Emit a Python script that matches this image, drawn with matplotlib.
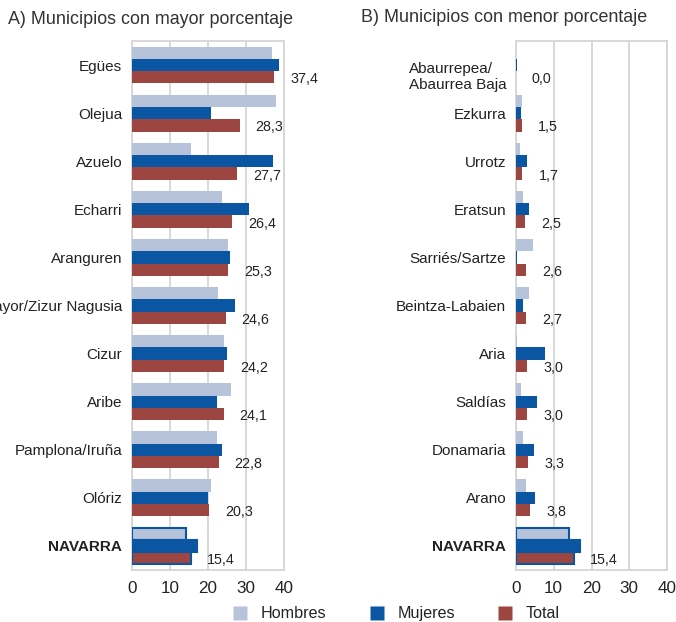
import numpy as np
import matplotlib
matplotlib.use("Agg")
import matplotlib.pyplot as plt
from matplotlib.lines import Line2D
from matplotlib.transforms import ScaledTranslation

# ----------------------------------------------------------------------
# data (percentages)
mun_a = ["Egües", "Olejua", "Azuelo", "Echarri", "Aranguren",
         "Zizur Mayor/Zizur Nagusia", "Cizur", "Aribe", "Pamplona/Iruña",
         "Olóriz", "NAVARRA"]
hom_a = [36.7, 37.9, 15.4, 23.6, 25.3, 22.7, 24.1, 26.0, 22.4, 20.9, 14.1]
muj_a = [38.7, 20.9, 37.2, 30.7, 25.8, 27.0, 24.9, 22.4, 23.6, 19.9, 17.0]
tot_a = [37.4, 28.3, 27.7, 26.4, 25.3, 24.6, 24.2, 24.1, 22.8, 20.3, 15.4]

mun_b = ["Abaurrepea/\nAbaurrea Baja", "Ezkurra", "Urrotz", "Eratsun",
         "Sarriés/Sartze", "Beintza-Labaien", "Aria", "Saldías",
         "Donamaria", "Arano", "NAVARRA"]
hom_b = [0.1, 1.5, 1.0, 1.9, 4.6, 3.4, 0.2, 1.2, 1.8, 2.6, 14.0]
muj_b = [0.2, 1.3, 2.8, 3.5, 0.2, 1.9, 7.8, 5.5, 4.9, 5.0, 17.0]
tot_b = [0.0, 1.5, 1.7, 2.5, 2.6, 2.7, 3.0, 3.0, 3.3, 3.8, 15.4]

titles = ["A) Municipios con mayor porcentaje",
          "B) Municipios con menor porcentaje"]
series = ["Hombres", "Mujeres", "Total"]
xticks = [0, 10, 20, 30, 40]

# ----------------------------------------------------------------------
plt.rcParams["font.family"] = ["Liberation Sans", "DejaVu Sans"]
C_H, C_M, C_T = "#b7c3db", "#0a56a2", "#9d4641"
GRID = "#d6d6d6"
TXT = "#222222"

fig = plt.figure(figsize=(6.76, 6.22), dpi=100)
ax_a = fig.add_axes([0.1953, 0.0836, 0.2249, 0.8505])
ax_b = fig.add_axes([0.7633, 0.0836, 0.2234, 0.8505])

h = 0.255


def draw(ax, names, hom, muj, tot):
    y = np.arange(len(names))
    last = len(names) - 1
    for vals, off, col in [(hom, -h, C_H), (muj, 0, C_M), (tot, h, C_T)]:
        bars = ax.barh(y + off, vals, height=h, color=col, zorder=3)
        bars[last].set_edgecolor(C_M)
        bars[last].set_linewidth(1.5)
    for yi, v in zip(y, tot):
        ax.annotate(f"{v:.1f}".replace(".", ","), (v, yi + h),
                    xytext=(11.5, -1.5), textcoords="offset points",
                    ha="left", va="center", fontsize=10.3, color=TXT)
    ax.set_ylim(len(names) - 0.5, -0.5)
    ax.set_xlim(0, 40)
    ax.set_xticks(xticks)
    ax.set_yticks(y)
    ax.set_yticklabels(names, fontsize=11, color=TXT)
    ax.get_yticklabels()[last].set_fontweight("bold")
    ax.tick_params(axis="both", length=0)
    ax.tick_params(axis="y", pad=7)
    ax.tick_params(axis="x", pad=8, labelsize=12.3, labelcolor=TXT)
    ax.grid(axis="x", color=GRID, lw=1.3, zorder=0)
    for s in ax.spines.values():
        s.set_color(GRID)
        s.set_linewidth(1.3)


draw(ax_a, mun_a, hom_a, muj_a, tot_a)
draw(ax_b, mun_b, hom_b, muj_b, tot_b)

lab = ax_b.get_yticklabels()[0]
lab.set_multialignment("left")
lab.set_transform(lab.get_transform() + ScaledTranslation(0, -7 / 72, fig.dpi_scale_trans))

fig.text(8 / 676, 1 - 19 / 622, titles[0], fontsize=12.9, color="#333333",
         ha="left", va="center")
fig.text(361 / 676, 1 - 18 / 622, titles[1], fontsize=12.9, color="#333333",
         ha="left", va="center")

handles = [Line2D([], [], ls="", marker="s", ms=10.5, mec="none", mfc=c)
           for c in (C_H, C_M, C_T)]
fig.legend(handles, series, ncol=3, loc="center", bbox_to_anchor=(0.586, 0.013),
           frameon=False, fontsize=11.6, handletextpad=0.8, columnspacing=2.6,
           handlelength=1.0, labelcolor=TXT)

fig.savefig("out.png", dpi=100)
